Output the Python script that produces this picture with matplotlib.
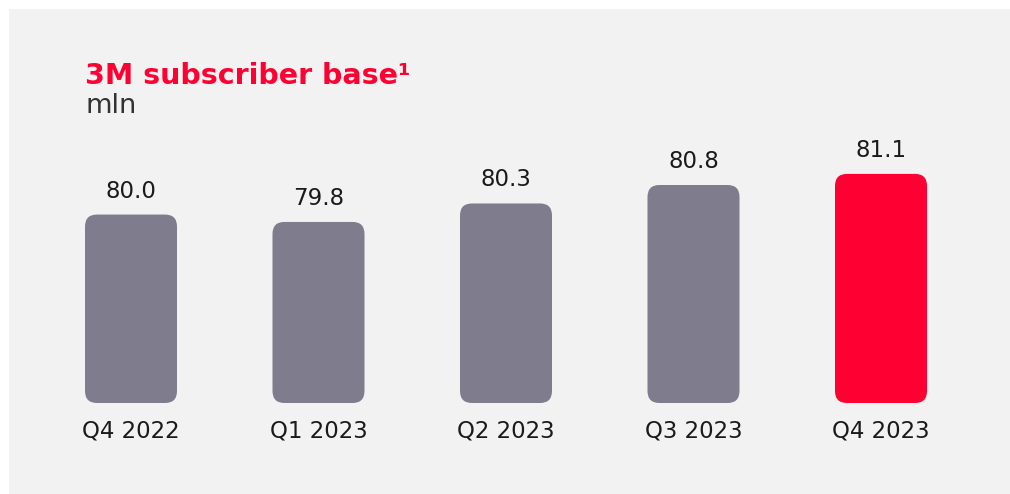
import matplotlib
matplotlib.use('Agg')
import matplotlib.pyplot as plt
from matplotlib.patches import FancyBboxPatch, Rectangle

# data
quarters = ['Q4 2022', 'Q1 2023', 'Q2 2023', 'Q3 2023', 'Q4 2023']
subscribers = [80.0, 79.8, 80.3, 80.8, 81.1]
bar_colors = ['#7e7c8d', '#7e7c8d', '#7e7c8d', '#7e7c8d', '#ff0033']

W, H = 1010, 494
fig = plt.figure(figsize=(W / 100, H / 100), dpi=100, facecolor='white')

# light gray panel behind everything
fig.patches.append(Rectangle((9 / W, 0), 1 - 9 / W, 1 - 9 / H, transform=fig.transFigure,
                             facecolor='#f2f2f2', edgecolor='none', zorder=-10))

# axes placed so that bar centres land at ~131 px with ~187.5 px spacing
step = 187.5
ax_left = 131 - step / 2
ax_bottom = 91
ax_h = 250
ax = fig.add_axes([ax_left / W, ax_bottom / H, 5 * step / W, ax_h / H], zorder=5)
ax.set_facecolor('none')
y0 = 74.9
px_per_unit = 36.95
ax.set_xlim(-0.5, 4.5)
ax.set_ylim(y0, y0 + ax_h / px_per_unit)
ax.axis('off')

bar_w = 92 / step
radius_px = 12
rx = radius_px / step
ry = radius_px / px_per_unit

x = range(len(quarters))
bars = ax.bar(x, [v - y0 for v in subscribers], bottom=y0, width=bar_w, alpha=0)
for i, b in enumerate(bars):
  v = subscribers[i]
  p = FancyBboxPatch((b.get_x(), b.get_y()), b.get_width(), b.get_height(),
                     boxstyle='round,pad=0,rounding_size=%f' % rx,
                     mutation_aspect=ry / rx, facecolor=bar_colors[i], edgecolor='none',
                     clip_on=False)
  ax.add_patch(p)
  cx = b.get_x() + b.get_width() / 2
  ax.annotate('%.1f' % v, (cx, v), xytext=(0, 12), textcoords='offset pixels',
              ha='center', va='bottom', fontsize=16.5, color='#1a1a1a', annotation_clip=False)
  ax.annotate(quarters[i], (cx, y0), xytext=(0, -28), textcoords='offset pixels',
              ha='center', va='center', fontsize=16.5, color='#1a1a1a', annotation_clip=False)

fig.text(85 / W, 1 - 84 / H, '3M subscriber base\u00b9', fontsize=20.5, fontweight='bold',
         color='#ff0033', ha='left', va='baseline')
fig.text(85 / W, 1 - 113 / H, 'mln', fontsize=19.5, color='#333333', ha='left', va='baseline')

fig.savefig('out.png', dpi=100, facecolor=fig.get_facecolor())
